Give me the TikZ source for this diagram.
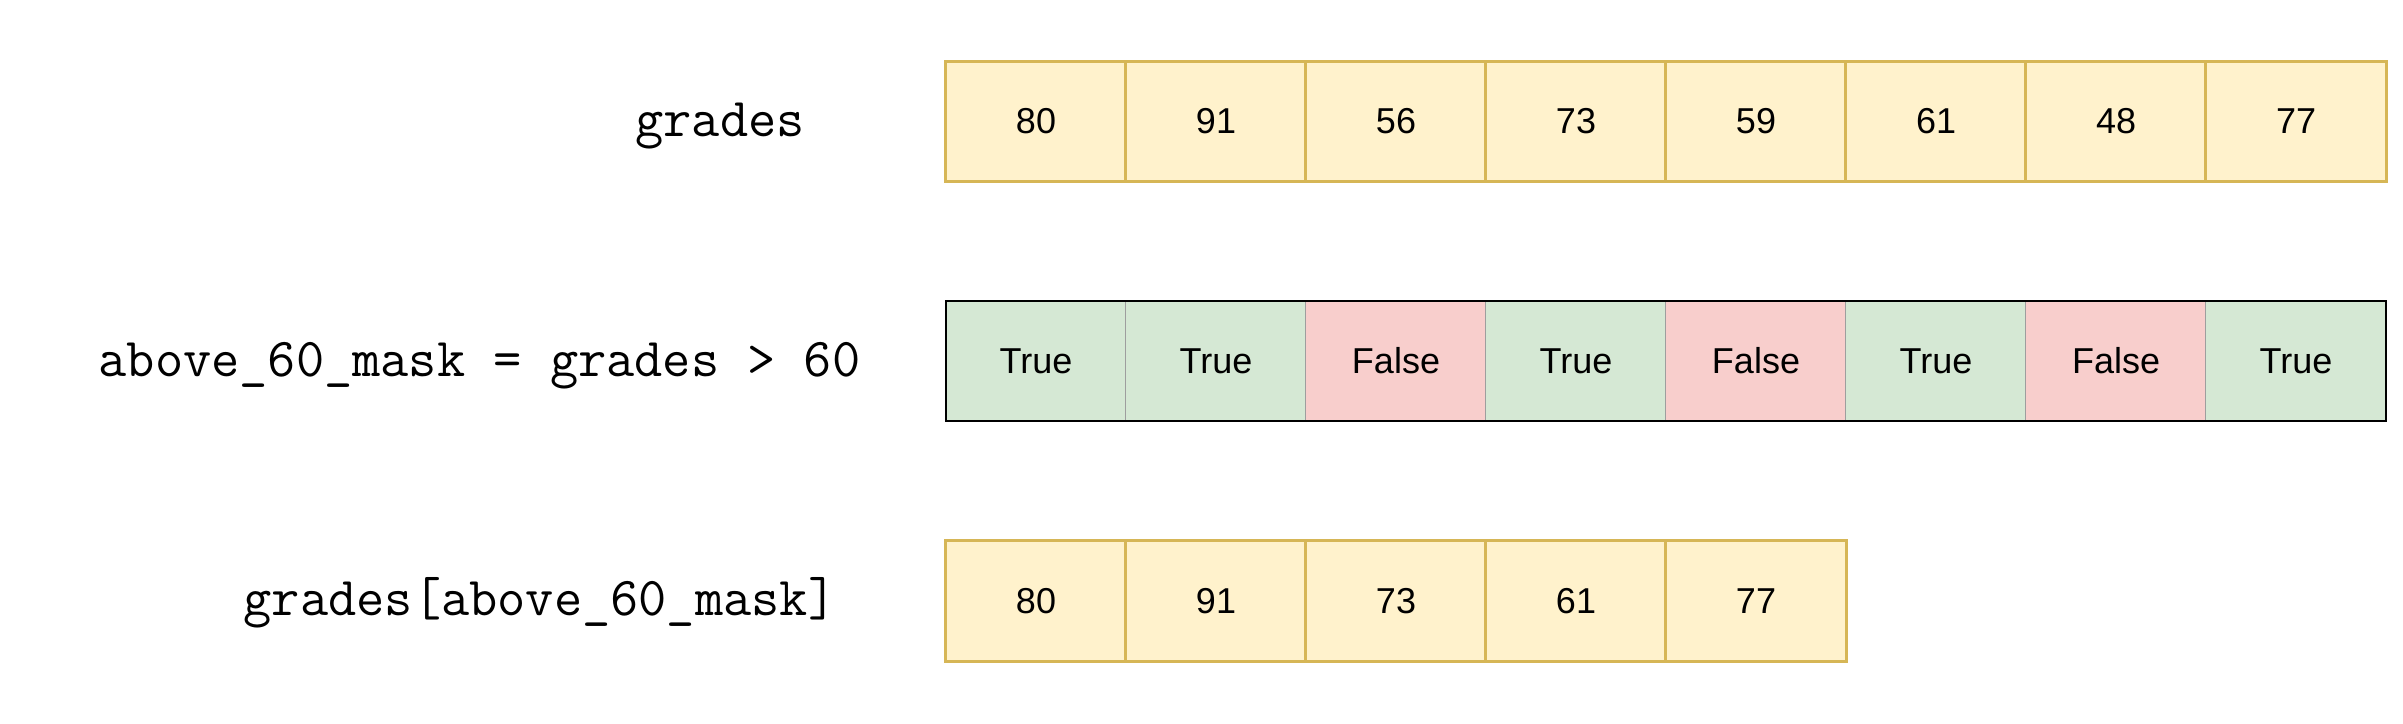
\documentclass[tikz,border=0pt]{standalone}
\usepackage{fontspec}
\setmainfont{Liberation Sans}
\definecolor{yfill}{HTML}{FFF2CC}
\definecolor{ydraw}{HTML}{D6B656}
\definecolor{gfill}{HTML}{D5E8D4}
\definecolor{rfill}{HTML}{F8CECC}
\definecolor{thinline}{HTML}{9E9E9E}
\begin{document}
\begin{tikzpicture}[x=0.01cm,y=-0.01cm,
  cellbox/.style={rectangle, minimum width=1.8cm, minimum height=1.2cm, inner sep=0pt, outer sep=0pt, font=\fontsize{10.24pt}{12pt}\selectfont},
  gradecell/.style={cellbox, fill=yfill, draw=ydraw, line width=0.03cm},
  maskcell/.style={cellbox, draw=thinline, line width=0.01cm},
  maskframe/.style={draw=black, line width=0.02cm},
  codelabel/.style={anchor=base, inner sep=0pt, font=\ttfamily\fontsize{15.58pt}{18pt}\selectfont}]
\useasboundingbox (0,0) rectangle (2403,723);
% row 1: grades
\foreach \v [count=\i from 0] in {80,91,56,73,59,61,48,77}
  \node[gradecell] (g\i) at (1036+180*\i,121.5) {\v};
% row 2: mask
\foreach \v/\c [count=\i from 0] in {True/gfill,True/gfill,False/rfill,True/gfill,False/rfill,True/gfill,False/rfill,True/gfill}
  \node[maskcell, fill=\c] (m\i) at (1036+180*\i,361) {\v};
\draw[maskframe] (m0.north west) rectangle (m7.south east);
% row 3: selection
\foreach \v [count=\i from 0] in {80,91,73,61,77}
  \node[gradecell] (s\i) at (1036+180*\i,601) {\v};
% labels
\node[codelabel] (lblgrades) at (720,136) {grades};
\node[codelabel] (lblmask) at (479.5,376) {above\_60\_mask = grades > 60};
\node[codelabel] (lblsel) at (540,615) {grades[above\_60\_mask]};
\end{tikzpicture}
\end{document}
